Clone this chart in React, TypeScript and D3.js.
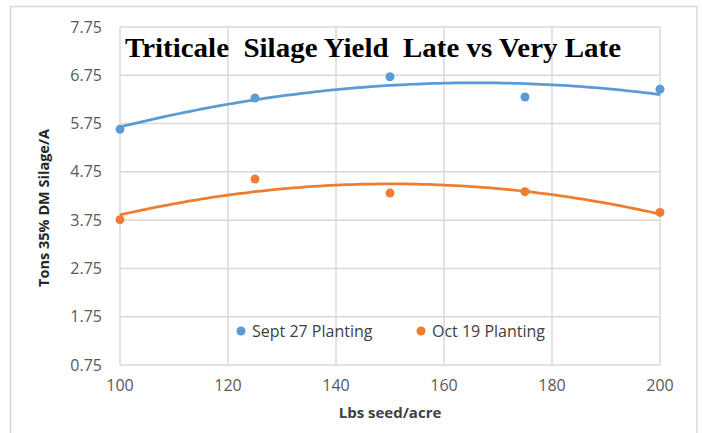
import React from "react";
import * as d3 from "d3";

const seedRates = [100, 125, 150, 175, 200];
const sept27 = [5.63, 6.28, 6.72, 6.3, 6.46];
const oct19 = [3.76, 4.6, 4.31, 4.34, 3.91];
const seriesNames = ["Sept 27 Planting", "Oct 19 Planting"];
const seriesColors = ["#5B9BD5", "#ED7D31"];
const xTicks = [100, 120, 140, 160, 180, 200];
const yTicks = [0.75, 1.75, 2.75, 3.75, 4.75, 5.75, 6.75, 7.75];
const title = "Triticale  Silage Yield  Late vs Very Late";
const xTitle = "Lbs seed/acre";
const yTitle = "Tons 35% DM Silage/A";

// least-squares quadratic fit (Excel polynomial trendline, order 2)
function quadFit(xs: number[], ys: number[]) {
  const n = xs.length;
  const mx = d3.mean(xs)!;
  const sc = 25;
  const t = xs.map((x) => (x - mx) / sc);
  let S = [0, 0, 0, 0, 0];
  let T = [0, 0, 0];
  for (let i = 0; i < n; i++) {
    for (let k = 0; k < 5; k++) S[k] += Math.pow(t[i], k);
    for (let k = 0; k < 3; k++) T[k] += Math.pow(t[i], k) * ys[i];
  }
  const A = [
    [S[0], S[1], S[2], T[0]],
    [S[1], S[2], S[3], T[1]],
    [S[2], S[3], S[4], T[2]],
  ];
  for (let c = 0; c < 3; c++) {
    for (let r = c + 1; r < 3; r++) {
      const f = A[r][c] / A[c][c];
      for (let k = c; k < 4; k++) A[r][k] -= f * A[c][k];
    }
  }
  const b = [0, 0, 0];
  for (let r = 2; r >= 0; r--) {
    let s = A[r][3];
    for (let k = r + 1; k < 3; k++) s -= A[r][k] * b[k];
    b[r] = s / A[r][r];
  }
  return (x: number) => {
    const u = (x - mx) / sc;
    return b[0] + b[1] * u + b[2] * u * u;
  };
}

export default function App() {
  const W = 702;
  const H = 433;
  const left = 120;
  const right = 660;
  const top = 27;
  const bottom = 365;
  const x = d3.scaleLinear().domain([100, 200]).range([left, right]);
  const y = d3.scaleLinear().domain([0.75, 7.75]).range([bottom, top]);
  const series = [sept27, oct19];
  const fine = d3.range(100, 200.01, 1);
  const line = d3
    .line<[number, number]>()
    .x((d) => x(d[0]))
    .y((d) => y(d[1]));
  const font = "'Open Sans', 'Liberation Sans', sans-serif";
  const grid = "#D9D9D9";

  return (
    <svg
      width={W}
      height={H}
      style={{ position: "absolute", left: 0, top: 0, background: "#fff" }}
    >
      <rect x={0} y={0} width={W} height={H} fill="#fff" />
      <rect x={10.5} y={6.5} width={686.5} height={440} fill="none" stroke={grid} strokeWidth={1.5} />
      {yTicks.map((v) => (
        <line key={"h" + v} x1={left} x2={right} y1={y(v)} y2={y(v)} stroke={grid} strokeWidth={1.5} />
      ))}
      {xTicks.map((v) => (
        <line key={"v" + v} x1={x(v)} x2={x(v)} y1={top} y2={bottom} stroke={grid} strokeWidth={1.5} />
      ))}
      {yTicks.map((v) => (
        <text
          key={"yl" + v}
          x={102}
          y={y(v)}
          dy="0.35em"
          textAnchor="end"
          fontFamily={font}
          fontSize={16}
          fill="#595959"
        >
          {v.toFixed(2)}
        </text>
      ))}
      {xTicks.map((v) => (
        <text
          key={"xl" + v}
          x={x(v)}
          y={391}
          textAnchor="middle"
          fontFamily={font}
          fontSize={16}
          fill="#595959"
        >
          {v}
        </text>
      ))}
      <text
        x={(left + right) / 2}
        y={418}
        textAnchor="middle"
        fontFamily={font}
        fontSize={15}
        fontWeight="bold"
        fill="#404040"
      >
        {xTitle}
      </text>
      <text
        transform={`translate(49, ${208}) rotate(-90)`}
        textAnchor="middle"
        fontFamily={font}
        fontSize={14.5}
        fontWeight="bold"
        fill="#262626"
      >
        {yTitle}
      </text>
      {series.map((vals, i) => {
        const f = quadFit(seedRates, vals);
        const pts = fine.map((v) => [v, f(v)] as [number, number]);
        return (
          <g key={"s" + i}>
            <path d={line(pts) || ""} fill="none" stroke={seriesColors[i]} strokeWidth={2.75} />
            {vals.map((v, j) => (
              <circle key={j} cx={x(seedRates[j])} cy={y(v)} r={4.5} fill={seriesColors[i]} />
            ))}
          </g>
        );
      })}
      <text
        x={125}
        y={57}
        fontFamily="'Liberation Serif', 'Times New Roman', serif"
        fontSize={28}
        fontWeight="bold"
        fill="#000"
        textLength={496}
        lengthAdjust="spacingAndGlyphs"
        style={{ whiteSpace: "pre" }}
      >
        {title}
      </text>
      {seriesNames.map((name, i) => {
        const mx = [241, 421][i];
        return (
          <g key={"lg" + i}>
            <circle cx={mx} cy={331} r={4.5} fill={seriesColors[i]} />
            <text
              x={mx + 11}
              y={331}
              dy="0.35em"
              fontFamily={font}
              fontSize={16}
              fill="#404040"
            >
              {name}
            </text>
          </g>
        );
      })}
    </svg>
  );
}
